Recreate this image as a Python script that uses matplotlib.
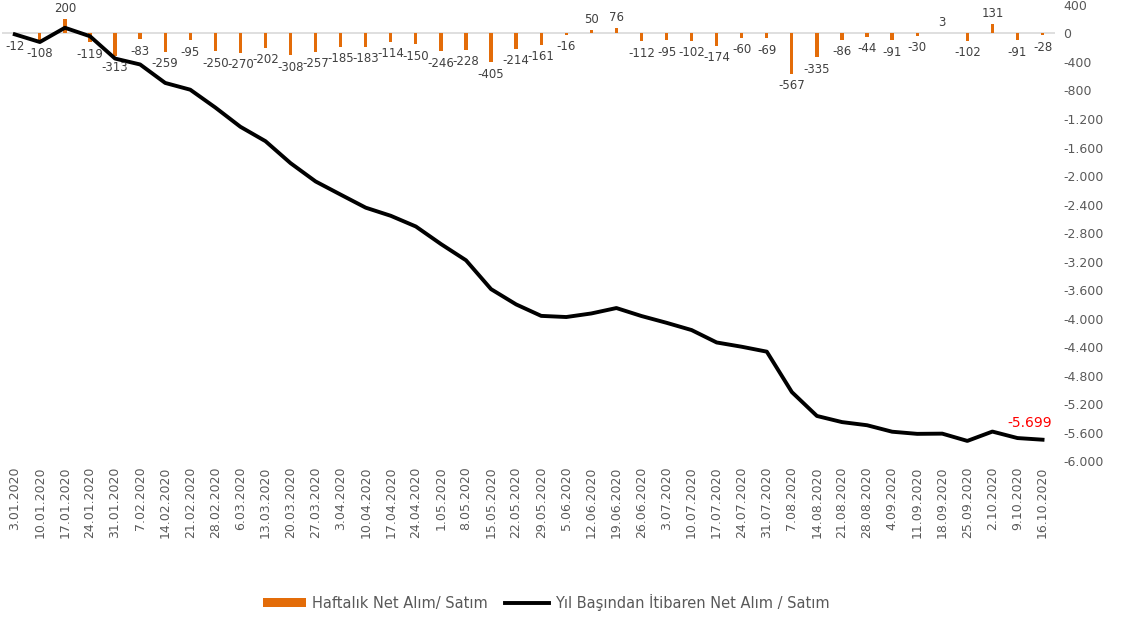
import matplotlib
matplotlib.use("Agg")
import matplotlib.pyplot as plt
from matplotlib.ticker import FuncFormatter

dates = ["3.01.2020", "10.01.2020", "17.01.2020", "24.01.2020", "31.01.2020",
         "7.02.2020", "14.02.2020", "21.02.2020", "28.02.2020", "6.03.2020",
         "13.03.2020", "20.03.2020", "27.03.2020", "3.04.2020", "10.04.2020",
         "17.04.2020", "24.04.2020", "1.05.2020", "8.05.2020", "15.05.2020",
         "22.05.2020", "29.05.2020", "5.06.2020", "12.06.2020", "19.06.2020",
         "26.06.2020", "3.07.2020", "10.07.2020", "17.07.2020", "24.07.2020",
         "31.07.2020", "7.08.2020", "14.08.2020", "21.08.2020", "28.08.2020",
         "4.09.2020", "11.09.2020", "18.09.2020", "25.09.2020", "2.10.2020",
         "9.10.2020", "16.10.2020"]

weekly = [-12, -108, 200, -119, -313, -83, -259, -95, -250, -270,
          -202, -308, -257, -185, -183, -114, -150, -246, -228, -405,
          -214, -161, -16, 50, 76, -112, -95, -102, -174, -60,
          -69, -567, -335, -86, -44, -91, -30, 3, -102, 131,
          -91, -28]

ytd = [-12, -120, 80, -39, -352, -435, -694, -789, -1039, -1309,
       -1511, -1819, -2076, -2261, -2444, -2558, -2708, -2954, -3182, -3587,
       -3801, -3962, -3978, -3928, -3852, -3964, -4059, -4161, -4335, -4395,
       -4464, -5031, -5366, -5452, -5496, -5587, -5617, -5614, -5716, -5585,
       -5676, -5699]

orange = "#E36C09"
gray = "#595959"

fig = plt.figure(figsize=(11.26, 6.19), dpi=100)
ax = fig.add_axes([0.002, 0.255, 0.935, 0.737])

x = list(range(len(dates)))
ax.axhline(0, color="#d9d9d9", lw=1.2, zorder=1)
bars = ax.bar(x, weekly, width=0.13, color=orange, zorder=2)
line, = ax.plot(x, ytd, color="black", lw=2.8, zorder=3)

# etiketler
for i, v in enumerate(weekly):
    if v >= 0:
        ax.annotate(str(v), (i, v), xytext=(0, 3), textcoords="offset points",
                    ha="center", va="bottom", fontsize=8.5, color="#404040", clip_on=False)
    else:
        ax.annotate(str(v), (i, v), xytext=(0, -4), textcoords="offset points",
                    ha="center", va="top", fontsize=8.5, color="#404040")

ax.annotate("-5.699", (x[-1], ytd[-1]), xytext=(-9, 12), textcoords="offset points",
            ha="center", va="center", fontsize=10, color="#FF0000")

ax.set_xlim(-0.5, len(dates) - 0.5)
ax.set_ylim(-6000, 400)
ax.set_yticks(range(-6000, 401, 400))
ax.yaxis.set_major_formatter(FuncFormatter(lambda v, p: f"{int(v):,}".replace(",", ".")))
ax.yaxis.tick_right()
ax.set_xticks(x)
ax.set_xticklabels(dates, rotation=90, fontsize=9, color=gray)
ax.tick_params(axis="y", labelsize=9, labelcolor=gray, length=0, pad=6)
ax.tick_params(axis="x", length=0, pad=4)
for s in ax.spines.values():
    s.set_visible(False)

fig.legend([bars, line], ["Haftalık Net Alım/ Satım", "Yıl Başından İtibaren Net Alım / Satım"],
           loc="center", bbox_to_anchor=(0.485, 0.027), ncol=2, frameon=False,
           fontsize=10.5, handlelength=3.0, handleheight=0.6, handletextpad=0.4,
           columnspacing=1.2, labelcolor=gray)

fig.savefig("out.png", dpi=100)
